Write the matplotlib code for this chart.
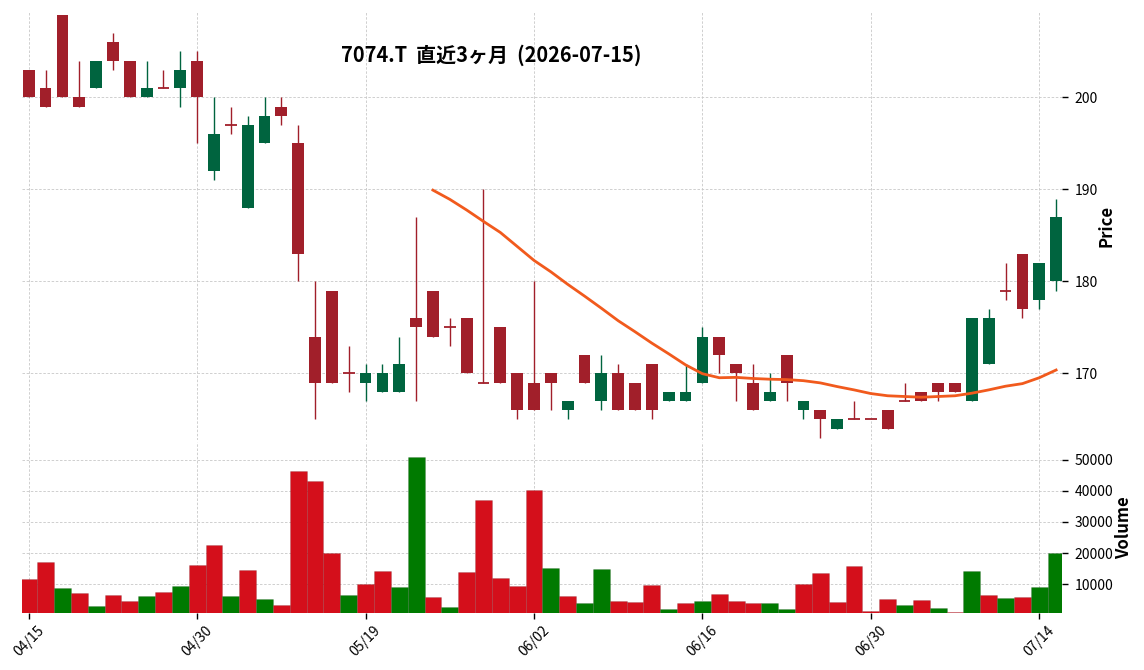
import numpy as np
import pandas as pd
import matplotlib
matplotlib.use("Agg")
import matplotlib.pyplot as plt

plt.rcParams["font.family"] = ["Noto Sans CJK JP", "DejaVu Sans"]

TITLE = "7074.T  直近3ヶ月  (2026-07-15)"

dates = [
    "04/15", "04/16", "04/17", "04/20", "04/21", "04/22", "04/23", "04/24", "04/27", "04/28", "04/30",
    "05/01", "05/07", "05/08", "05/11", "05/12", "05/13", "05/14", "05/15", "05/18", "05/19",
    "05/20", "05/21", "05/22", "05/25", "05/26", "05/27", "05/28", "05/29",
    "06/01", "06/02", "06/03", "06/04", "06/05", "06/08", "06/09", "06/10", "06/11", "06/12",
    "06/15", "06/16", "06/17", "06/18", "06/19", "06/22", "06/23", "06/24", "06/25", "06/26",
    "06/29", "06/30",
    "07/01", "07/02", "07/03", "07/06", "07/07", "07/08", "07/09", "07/10", "07/13", "07/14", "07/15",
]

opens = [203, 201, 209, 200, 201, 206, 204, 200, 201, 201, 204, 192, 197, 188, 195, 199,
         195, 174, 179, 170, 169, 168, 168, 176, 179, 175, 176, 169, 175, 170, 169, 170,
         166, 172, 167, 170, 169, 171, 167, 167, 169, 174, 171, 169, 167, 172, 166, 166,
         164, 165, 165, 166, 167, 168, 169, 169, 167, 171, 179, 183, 178, 180]
highs = [203, 203, 209, 204, 204, 207, 204, 204, 203, 205, 205, 200, 199, 198, 200, 200,
         197, 180, 179, 173, 171, 171, 174, 187, 179, 176, 176, 190, 175, 170, 180, 170,
         167, 172, 172, 171, 169, 171, 168, 171, 175, 174, 171, 171, 170, 172, 167, 166,
         165, 167, 165, 166, 169, 168, 169, 169, 176, 177, 182, 183, 182, 189]
lows = [200, 199, 200, 199, 201, 203, 200, 200, 201, 199, 195, 191, 196, 188, 195, 197,
        180, 165, 169, 168, 167, 168, 168, 167, 174, 173, 170, 169, 169, 165, 166, 166,
        165, 169, 166, 166, 166, 165, 167, 167, 169, 170, 167, 166, 167, 167, 165, 163,
        164, 165, 165, 164, 167, 167, 167, 168, 167, 171, 178, 176, 177, 179]
closes = [200, 199, 200, 199, 204, 204, 200, 201, 201, 203, 200, 196, 197, 197, 198, 198,
          183, 169, 169, 170, 170, 170, 171, 175, 174, 175, 170, 169, 169, 166, 166, 169,
          167, 169, 170, 166, 166, 166, 168, 168, 174, 172, 170, 166, 168, 169, 167, 165,
          165, 165, 165, 164, 167, 167, 168, 168, 176, 176, 179, 177, 182, 187]
volumes = [11700, 17150, 8830, 7230, 3070, 6590, 4670, 6270, 7550, 9470, 16190, 22590,
           6270, 14590, 5310, 3390, 46270, 43070, 20030, 6590, 10110, 14270, 9150, 50750,
           5950, 2750, 13950, 36990, 12030, 9470, 40190, 15230, 6200, 4000, 14900, 4600,
           4300, 9800, 2100, 4000, 4600, 6900, 4600, 4000, 4000, 2100, 10100, 13600,
           4300, 15900, 1400, 5300, 3400, 5000, 2400, 1100, 14300, 6600, 5600, 5900,
           9100, 20000]

MA_WINDOW = 25

UP = "#00643f"
DOWN = "#a11f2a"
VOL_UP = "#007a00"
VOL_DOWN = "#d40f1b"
MA_COLOR = "#f15a1d"
GRID = "#c8c8c8"

df = pd.DataFrame({"open": opens, "high": highs, "low": lows,
                   "close": closes, "volume": volumes})
df["ma"] = df["close"].rolling(MA_WINDOW).mean()
x = np.arange(len(df))

fig = plt.figure(figsize=(11.44, 6.70), dpi=100)
W, H = 1144, 670
ax = fig.add_axes([22 / W, 1 - 440 / H, 1040 / W, 429 / H])
axv = fig.add_axes([22 / W, 1 - 613 / H, 1040 / W, 171.5 / H], sharex=ax)

# candles
up = df["close"] > df["open"]
colors = np.where(up, UP, DOWN)
ax.vlines(x, df["low"], df["high"], colors=colors, linewidth=1.0, zorder=2)
body_lo = np.minimum(df["open"], df["close"])
body_h = (df["close"] - df["open"]).abs()
ax.bar(x, body_h, bottom=body_lo, width=0.7, color=colors, linewidth=0, zorder=3)
doji = body_h == 0
ax.hlines(df["close"][doji], x[doji] - 0.35, x[doji] + 0.35,
          colors=colors[doji], linewidth=1.3, zorder=3)

ax.plot(x, df["ma"], color=MA_COLOR, linewidth=2, zorder=4)

# volume, colored by close vs previous close
prev = df["close"].shift(1).fillna(df["open"])
vcolors = np.where(df["close"] > prev, VOL_UP, VOL_DOWN)
axv.bar(x, df["volume"], width=1.0, color=vcolors, edgecolor="#00000030",
        linewidth=0.4, zorder=2)

ax.set_xlim(-0.4, 61.35)
ax.set_ylim(162.75, 209.4)
axv.set_ylim(800, 55800)

for a in (ax, axv):
    for s in a.spines.values():
        s.set_visible(False)
    a.yaxis.tick_right()
    a.yaxis.set_label_position("right")
    a.grid(True, linestyle=(0, (3, 2)), color=GRID, linewidth=0.6, zorder=0)
    a.set_axisbelow(True)
    a.tick_params(axis="y", length=4, width=1, labelsize=10, pad=5)

ax.set_yticks([170, 180, 190, 200])
axv.set_yticks([10000, 20000, 30000, 40000, 50000])

ticks = list(range(0, len(dates), 10))
axv.set_xticks(ticks)
axv.set_xticklabels([dates[i] for i in ticks], rotation=45, ha="center", fontsize=10)
axv.tick_params(axis="x", length=4, width=1)
ax.tick_params(axis="x", length=0, labelbottom=False)

ax.set_ylabel("Price", fontsize=12, fontweight="bold", labelpad=0)
axv.set_ylabel("Volume", fontsize=12, fontweight="bold", labelpad=1)

fig.text(491 / W, 1 - 55 / H, TITLE, ha="center", va="center",
         fontsize=14.4, fontweight="bold")

fig.savefig("out.png", dpi=100)
